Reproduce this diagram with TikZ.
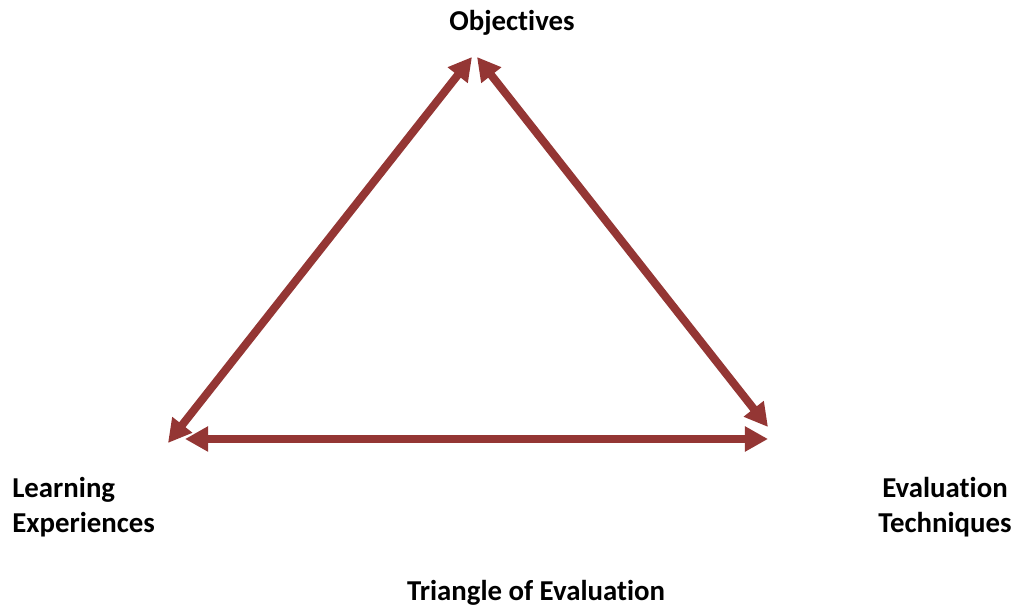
\documentclass[tikz,border=0pt]{standalone}
\usepackage{fontspec}
\setmainfont{Carlito}[Ligatures={NoCommon}]
\usepackage{xcolor}
\usepackage{tikz}
\usetikzlibrary{arrows.meta}
\definecolor{arrowred}{RGB}{148,54,52}
\tikzstyle{label} = [font=\fontsize{20.5}{24.9}\selectfont\bfseries, inner sep=0pt]
\tikzstyle{line} = [draw, arrowred, line width=5.7pt,
    {Triangle[length=0.58cm, width=0.6cm]}-{Triangle[length=0.58cm, width=0.6cm]}]

\begin{document}
\begin{tikzpicture}
    \useasboundingbox (0,0) rectangle (25.425,15.225);
    % Place nodes
    \node [label] (objectives) at (12.8,14.66) {Objectives};
    \node [label, align=left, anchor=west] (learning) at (0.3,2.55) {Learning\\Experiences};
    \node [label, align=center] (evaltech) at (23.625,2.55) {Evaluation\\Techniques};
    \node [label] (title) at (13.4,0.4) {Triangle of Evaluation};
    \coordinate (topL) at (11.8,13.8);
    \coordinate (topR) at (11.925,13.8);
    \coordinate (leftD) at (4.2,4.15);
    \coordinate (rightD) at (19.2,4.55);
    \coordinate (leftH) at (4.625,4.25);
    \coordinate (rightH) at (19.2,4.25);

    % Draw edges
    \path [line] (leftD) -- (topL);
    \path [line] (topR) -- (rightD);
    \path [line] (leftH) -- (rightH);
\end{tikzpicture}
\end{document}
